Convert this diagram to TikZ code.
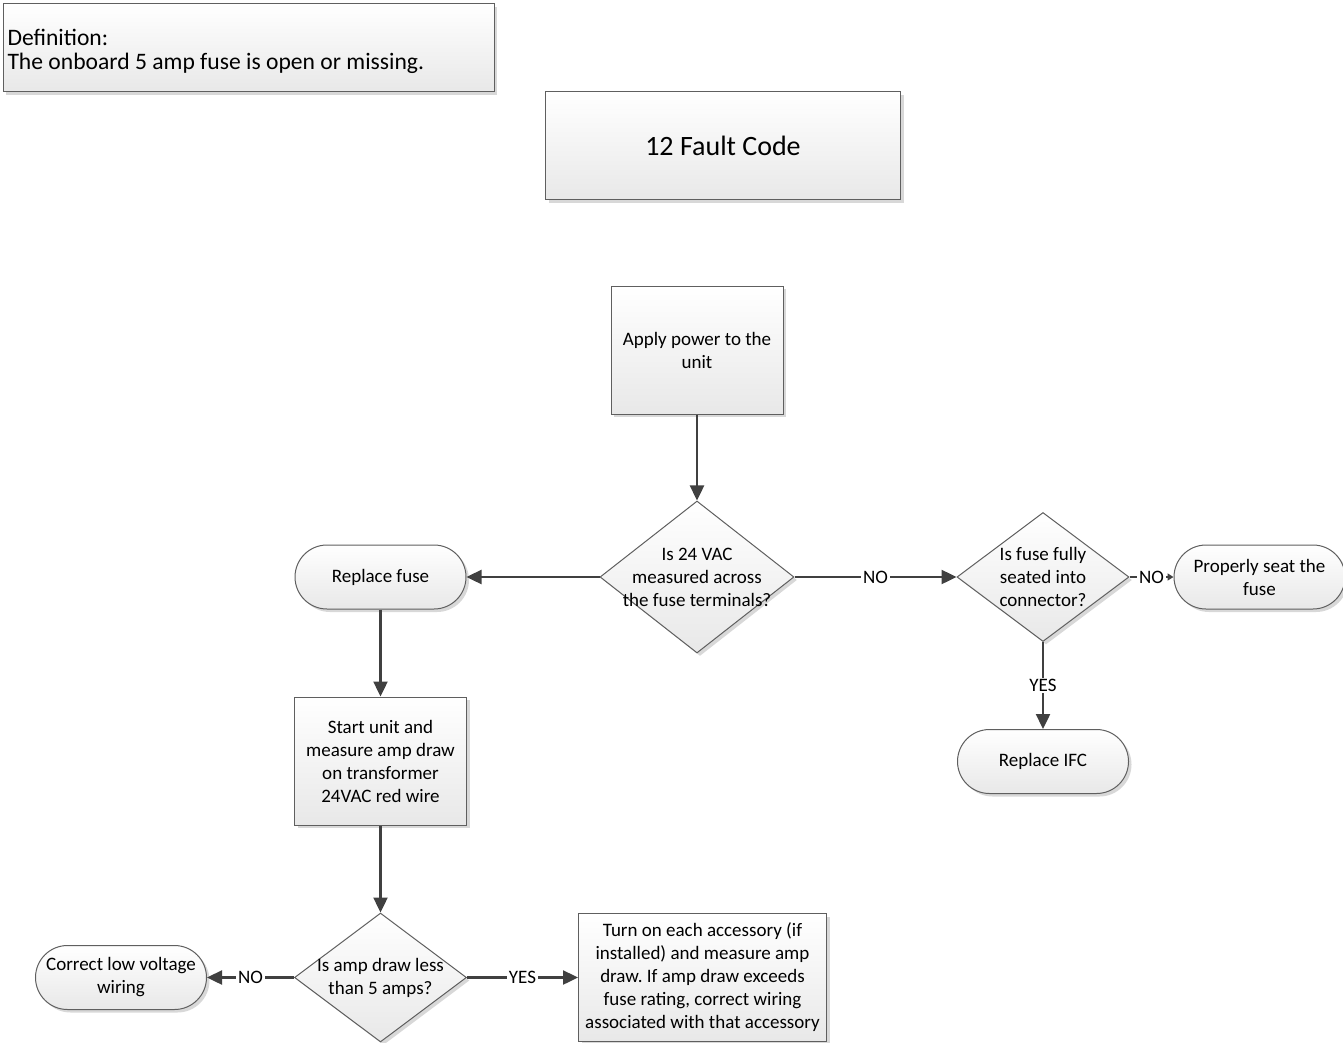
\documentclass[tikz,border=0pt]{standalone}
\usepackage{fontspec}
\setmainfont{Carlito}
\frenchspacing
\usetikzlibrary{arrows.meta,positioning,shapes.geometric,shadows}
\definecolor{fcline}{RGB}{64,64,64}
\definecolor{fcedge}{RGB}{95,95,95}
\definecolor{fctop} {RGB}{255,255,255}
\definecolor{fcbot} {RGB}{232,232,232}
\tikzset{
  base/.style={draw=fcedge,line width=0.5pt,top color=fctop,bottom color=fcbot,
               font=\fontsize{9.5}{11.5}\selectfont,align=center,inner sep=2pt,
               drop shadow={shadow xshift=1.5pt,shadow yshift=-1.5pt,
               fill=black!30,opacity=0.5}},
  proc/.style={base,rectangle,minimum width=86pt,minimum height=64pt},
  term/.style={base,rectangle,rounded corners=16pt,
               minimum width=85.5pt,minimum height=32pt},
  dec/.style={base,diamond,minimum width=86pt,minimum height=64.5pt,inner sep=0pt},
  dectxt/.style={font=\fontsize{9.5}{11.5}\selectfont,align=center,inner sep=0pt},
  arr/.style={-{Triangle[length=7.5pt,width=7pt]},line width=1.2pt,draw=fcline},
  arrsmall/.style={arr,-{Triangle[length=3pt,width=3.5pt]}},
  yn/.style={font=\fontsize{9.5}{11.5}\selectfont,fill=white,inner sep=0.8pt},
}
\begin{document}
\begin{tikzpicture}[x=0.5pt,y=0.5pt]
  \useasboundingbox (0,0) rectangle (1343,-1043);

  % header boxes
  \node[base,rectangle,minimum width=245.5pt,minimum height=44pt,
        text width=241pt,text depth=10.5pt,align=flush left,
        font=\fontsize{11.8}{12}\selectfont]
        (DEF) at (248.5,-48) {Definition:\\The onboard 5 amp fuse is open or missing.};
  \node[base,rectangle,minimum width=177.5pt,minimum height=54pt,
        font=\fontsize{14}{16}\selectfont] (TITLE) at (723,-146) {12 Fault Code};

  % main column
  \node[proc] (APPLY) at (697,-350) {Apply power to the\\unit};
  \node[dec,minimum width=97pt,minimum height=76pt,below=43pt of APPLY] (VAC)
        {};
  \node[dectxt] at (VAC) {Is 24 VAC\\measured across\\the fuse terminals?};

  \node[term,left=66.5pt of VAC]  (FUSE)  {Replace fuse};
  \node[dec,right=81pt of VAC]    (SEAT)  {};
  \node[dectxt] at (SEAT) {Is fuse fully\\seated into\\connector?};
  \node[term,right=22pt of SEAT]  (RESEAT){Properly seat the\\fuse};
  \node[term,below=43.5pt of SEAT](IFC)   {Replace IFC};

  \node[proc,below=43.5pt of FUSE] (START)
        {Start unit and\\measure amp draw\\on transformer\\24VAC red wire};
  \node[dec,below=43.5pt of START] (AMP) {};
  \node[dectxt] at (AMP) {Is amp draw less\\than 5 amps?};
  \node[term,left=43.5pt of AMP]   (WIRE) {Correct low voltage\\wiring};
  \node[proc,minimum width=124pt,right=55.5pt of AMP] (ACC)
        {Turn on each accessory (if\\installed) and measure amp\\draw. If amp draw exceeds\\fuse rating, correct wiring\\associated with that accessory};

  % connectors
  \draw[arr] (APPLY) -- (VAC);
  \draw[arr] (VAC) -- (FUSE);
  \draw[arr] (VAC) -- node[yn]{NO} (SEAT);
  \draw[arrsmall] (SEAT) -- node[yn]{NO} (RESEAT);
  \draw[arr] (SEAT) -- node[yn]{YES} (IFC);
  \draw[arr] (FUSE) -- (START);
  \draw[arr] (START) -- (AMP);
  \draw[arr] (AMP) -- node[yn]{NO} (WIRE);
  \draw[arr] (AMP) -- node[yn]{YES} (ACC);
\end{tikzpicture}
\end{document}
